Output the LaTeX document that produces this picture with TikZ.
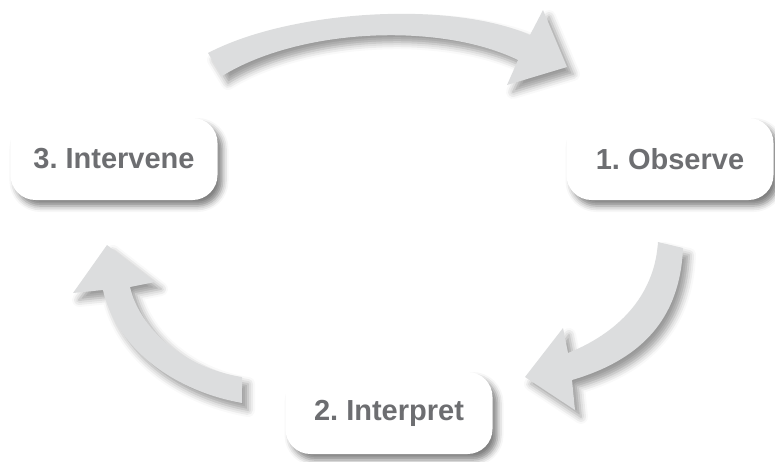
\documentclass[tikz,border=0pt]{standalone}
\usepackage{fontspec}
\setsansfont{Liberation Sans}
\usetikzlibrary{shadows,shadows.blur}
\definecolor{lg}{HTML}{DCDDDE}
\definecolor{dg}{HTML}{6D6E71}
\frenchspacing
\tikzset{
    stage/.style =  {rectangle,
                    rounded corners=25pt,
                    fill=white,
                    draw=none,
                    text=dg,
                    minimum width=207pt,
                    minimum height=82pt,
                    font=\fontsize{29}{34}\selectfont\sffamily\bfseries,
                    blur shadow={shadow xshift=5pt,
                                 shadow yshift=-6pt,
                                 shadow blur radius=6pt,
                                 shadow opacity=50}},
    cycle/.style =  {fill=lg,
                    draw=none,
                    blur shadow={shadow xshift=6pt,
                                 shadow yshift=-7pt,
                                 shadow blur radius=7pt,
                                 shadow opacity=40}}}

\begin{document}
\begin{tikzpicture}[x=1pt,y=-1pt]
            \useasboundingbox (0,0) rectangle (775,461);

            % the three block arrows
            \fill[cycle] (208,53) .. controls (290,10) and (450,0) .. (530,35)
                -- (543,10) -- (567,67) -- (507,85) -- (518,60)
                .. controls (440,22) and (300,28) .. (222,76) -- cycle;
            \fill[cycle] (683,248) .. controls (680,320) and (640,360) .. (572,380)
                -- (575,410) -- (525,377) -- (563,328) -- (568,353)
                .. controls (625,330) and (655,290) .. (658,242) -- cycle;
            \fill[cycle] (242,403) .. controls (170,390) and (115,345) .. (103,290)
                -- (73,293) -- (107,245) -- (155,282) -- (130,287)
                .. controls (140,330) and (185,368) .. (242,377) -- cycle;

            % the three stages
            \node[stage]        (O) at (670,159)        {1. Observe};
            \node[stage]        (I) at (389,413)        {2. Interpret};
            \node[stage]        (V) at (114,159)        {3. Intervene};
        \end{tikzpicture}
\end{document}
